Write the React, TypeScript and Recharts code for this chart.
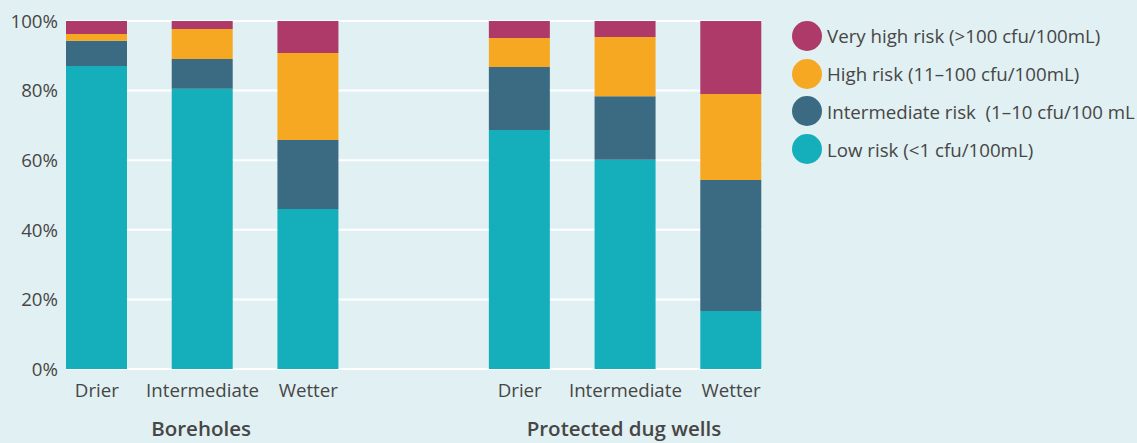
import React from 'react';
import { BarChart, Bar, XAxis, YAxis, CartesianGrid } from 'recharts';

// Categories (an empty slot separates the two well types)
const groups = ['Boreholes', 'Boreholes', 'Boreholes', '', 'Protected dug wells', 'Protected dug wells', 'Protected dug wells'];
const conditions = ['Drier', 'Intermediate', 'Wetter', '', 'Drier', 'Intermediate', 'Wetter'];

// Share of samples (%) in each risk class
const lowRisk = [87.1, 80.5, 46.0, null, 68.7, 60.1, 16.7];
const intermediateRisk = [7.2, 8.6, 19.8, null, 18.1, 18.3, 37.6];
const highRisk = [2.0, 8.6, 25.0, null, 8.3, 17.0, 24.7];
const veryHighRisk = [3.7, 2.3, 9.2, null, 4.9, 4.6, 21.0];

const yTicks = [0, 20, 40, 60, 80, 100];

const series = [
  { key: 'low', name: 'Low risk (<1 cfu/100mL)', color: '#15afbc', values: lowRisk },
  { key: 'intermediate', name: 'Intermediate risk  (1–10 cfu/100 mL', color: '#3b6b82', values: intermediateRisk },
  { key: 'high', name: 'High risk (11–100 cfu/100mL)', color: '#f6a823', values: highRisk },
  { key: 'veryHigh', name: 'Very high risk (>100 cfu/100mL)', color: '#ae3a6a', values: veryHighRisk },
];

const data = conditions.map((c, i) => {
  const row: Record<string, any> = { id: `${groups[i]}|${c}|${i}`, condition: c, group: groups[i] };
  series.forEach(s => {
    if (s.values[i] !== null) row[s.key] = s.values[i];
  });
  return row;
});

const FONT = '"Open Sans", sans-serif';
const TEXT = '#464646';
const FS = 18.7;

const XTick = (props: any) => {
  const { x, y, index } = props;
  const label = conditions[index];
  if (!label) return null;
  return (
    <g>
      <text x={x} y={y + 27.5} textAnchor="middle" fill={TEXT} fontSize={FS} fontFamily={FONT}>
        {label}
      </text>
      {label === 'Intermediate' && (
        <text x={x - 1.5} y={y + 67} textAnchor="middle" fill={TEXT} fontSize={20.5} fontWeight={600} fontFamily={FONT}>
          {groups[index]}
        </text>
      )}
    </g>
  );
};

const YTick = (props: any) => {
  const { x, y, payload } = props;
  return (
    <text x={x} y={y} dy="0.36em" textAnchor="end" fill={TEXT} fontSize={FS} fontFamily={FONT}>
      {`${payload.value}%`}
    </text>
  );
};

const App = () => {
  const legendItems = [...series].reverse();
  return (
    <div
      style={{
        position: 'absolute',
        left: 0,
        top: 0,
        width: 1137,
        height: 443,
        background: '#e1f0f2',
        overflow: 'hidden',
        fontFamily: FONT,
      }}
    >
      <BarChart width={1137} height={443} data={data} margin={{ top: 21, right: 375, bottom: 0, left: 0 }}>
        <CartesianGrid vertical={false} stroke="#ffffff" strokeWidth={2} />
        <XAxis
          dataKey="id"
          height={74}
          axisLine={false}
          tickLine={false}
          tickSize={0}
          tickMargin={0}
          interval={0}
          padding={{ left: -22, right: -22 }}
          tick={<XTick />}
        />
        <YAxis
          width={66}
          domain={[0, 100]}
          ticks={yTicks}
          axisLine={false}
          tickLine={false}
          tickSize={0}
          tickMargin={8}
          tick={<YTick />}
        />
        {series.map(s => (
          <Bar
            key={s.key}
            dataKey={s.key}
            name={s.name}
            stackId="risk"
            fill={s.color}
            barSize={61}
            isAnimationActive={false}
          />
        ))}
      </BarChart>
      <div style={{ position: 'absolute', left: 792, top: 17, width: 345, overflow: 'hidden' }}>
        {legendItems.map(s => (
          <div key={s.key} style={{ display: 'flex', alignItems: 'center', height: 37.8, whiteSpace: 'pre' }}>
            <span
              style={{
                display: 'inline-block',
                width: 30,
                height: 30,
                borderRadius: '50%',
                background: s.color,
                flex: '0 0 30px',
              }}
            />
            <span style={{ marginLeft: 5, fontSize: FS, color: TEXT }}>{s.name}</span>
          </div>
        ))}
      </div>
    </div>
  );
};

export default App;
